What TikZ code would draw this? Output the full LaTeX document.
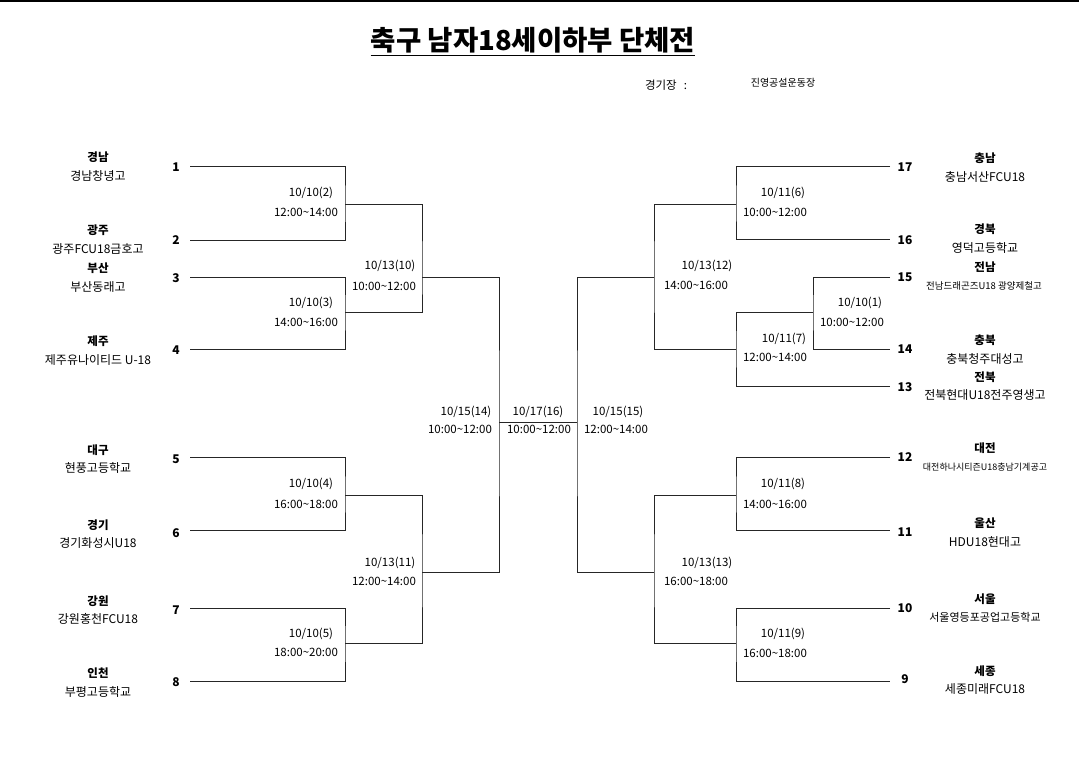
\documentclass[tikz,border=0pt]{standalone}
\usepackage{fontspec}
\setmainfont{Noto Sans CJK KR}
\usetikzlibrary{calc}
\begin{document}
\begin{tikzpicture}[x=1pt,y=-1pt,
  br/.style={draw=black!85,line width=0.9pt},
  lbl/.style={font=\fontsize{11.5}{12}\selectfont, inner sep=0pt},
  num/.style={font=\bfseries\fontsize{12}{12}\selectfont, inner sep=0pt},
  reg/.style={font=\bfseries\fontsize{11.5}{12}\selectfont, inner sep=0pt},
  sch/.style={font=\fontsize{12}{12}\selectfont, inner sep=0pt},
  schs/.style={font=\fontsize{9.5}{10}\selectfont, inner sep=0pt}]
\useasboundingbox (0,0) rectangle (1079,757);
\fill[white] (0,0) rectangle (1079,757);
\draw[line width=1.4pt] (0,1) -- (1079,1);
% title
\node[anchor=base, inner sep=0pt, font=\bfseries\fontsize{27.5}{30}\selectfont] (title) at (533,51) {축구 남자18세이하부 단체전};
\draw[line width=1.6pt] ($(title.base west)+(0,4.5)$) -- ($(title.base east)+(0,4.5)$);
\node[inner sep=0pt, font=\fontsize{11.5}{12}\selectfont] (venuek) at (666,85) {경기장 \ \,:};
\node[inner sep=0pt, font=\fontsize{10}{10}\selectfont] (venue) at (783,83) {진영공설운동장};
% coordinates left
\coordinate (s1) at (190,166); \coordinate (s2) at (190,240);
\coordinate (s3) at (190,277); \coordinate (s4) at (190,349);
\coordinate (s5) at (190,457); \coordinate (s6) at (190,530);
\coordinate (s7) at (190,608); \coordinate (s8) at (190,681);
\coordinate (m2) at (345,204); \coordinate (m3) at (345,312);
\coordinate (m4) at (345,495); \coordinate (m5) at (345,643);
\coordinate (q10) at (422,277); \coordinate (q11) at (422,572);
\coordinate (f14) at (499,422); \coordinate (f15) at (577,422);
% coordinates right
\coordinate (s17) at (890,166); \coordinate (s16) at (890,239);
\coordinate (s15) at (890,277); \coordinate (s14) at (890,349);
\coordinate (s13) at (890,386);
\coordinate (s12) at (890,457); \coordinate (s11) at (890,530);
\coordinate (s10) at (890,608); \coordinate (s9) at (890,681);
\coordinate (m6) at (736,204); \coordinate (m1) at (813,312);
\coordinate (m7) at (736,349); \coordinate (m8) at (736,495);
\coordinate (m9) at (736,643);
\coordinate (q12) at (654,277); \coordinate (q13) at (654,572);
% bracket lines left
\draw[br] (s1) -| (m2) |- (s2);
\draw[br] (s3) -| (m3) |- (s4);
\draw[br] (s5) -| (m4) |- (s6);
\draw[br] (s7) -| (m5) |- (s8);
\draw[br] (m2) -| (q10) |- (m3);
\draw[br] (m4) -| (q11) |- (m5);
\draw[br] (q10) -| (f14) |- (q11);
\draw[br] (f14) -- (f15);
% bracket lines right
\draw[br] (s17) -| (m6) |- (s16);
\draw[br] (s15) -| (m1) |- (s14);
\draw[br] (m1) -| (m7) |- (s13);
\draw[br] (m6) -| (q12) |- (m7);
\draw[br] (s12) -| (m8) |- (s11);
\draw[br] (s10) -| (m9) |- (s9);
\draw[br] (m8) -| (q13) |- (m9);
\draw[br] (q12) -| (f15) |- (q13);
% numbers left
\node[num] (n1) at (176,167) {1};
\node[num] (n2) at (176,240) {2};
\node[num] (n3) at (176,278) {3};
\node[num] (n4) at (176,350) {4};
\node[num] (n5) at (176,459) {5};
\node[num] (n6) at (176,533) {6};
\node[num] (n7) at (176,610) {7};
\node[num] (n8) at (176,682) {8};
% numbers right
\node[num] (n17) at (905,167) {17};
\node[num] (n16) at (905,240) {16};
\node[num] (n15) at (905,277) {15};
\node[num] (n14) at (905,349) {14};
\node[num] (n13) at (905,387) {13};
\node[num] (n12) at (905,457) {12};
\node[num] (n11) at (905,532) {11};
\node[num] (n10) at (905,608) {10};
\node[num] (n9) at (905,679) {9};
% teams left
\node[reg] (r1) at (98,157) {경남};
\node[sch] (t1) at (98,176) {경남창녕고};
\node[reg] (r2) at (98,230) {광주};
\node[sch] (t2) at (98,249) {광주FCU18금호고};
\node[reg] (r3) at (98,268) {부산};
\node[sch] (t3) at (98,287) {부산동래고};
\node[reg] (r4) at (98,341) {제주};
\node[sch] (t4) at (98,360) {제주유나이티드 U-18};
\node[reg] (r5) at (98,450) {대구};
\node[sch] (t5) at (98,468) {현풍고등학교};
\node[reg] (r6) at (98,525) {경기};
\node[sch] (t6) at (98,543) {경기화성시U18};
\node[reg] (r7) at (98,601) {강원};
\node[sch] (t7) at (98,619) {강원홍천FCU18};
\node[reg] (r8) at (98,673) {인천};
\node[sch] (t8) at (98,692) {부평고등학교};
% teams right
\node[reg] (r17) at (985,158) {충남};
\node[sch] (t17) at (985,177) {충남서산FCU18};
\node[reg] (r16) at (985,229) {경북};
\node[sch] (t16) at (985,248) {영덕고등학교};
\node[reg] (r15) at (985,267) {전남};
\node[schs] (t15) at (984,286) {전남드래곤즈U18 광양제철고};
\node[reg] (r14) at (985,340) {충북};
\node[sch] (t14) at (985,359) {충북청주대성고};
\node[reg] (r13) at (985,377) {전북};
\node[sch] (t13) at (985,395) {전북현대U18전주영생고};
\node[reg] (r12) at (985,448) {대전};
\node[inner sep=0pt, font=\fontsize{9}{10}\selectfont] (t12) at (985,467) {대전하나시티즌U18충남기계공고};
\node[reg] (r11) at (985,523) {울산};
\node[sch] (t11) at (985,542) {HDU18현대고};
\node[reg] (r10) at (985,599) {서울};
\node[inner sep=0pt, font=\fontsize{11}{12}\selectfont] (t10) at (985,617) {서울영등포공업고등학교};
\node[reg] (r9) at (985,671) {세종};
\node[sch] (t9) at (985,689) {세종미래FCU18};
% match labels left
\node[lbl] (d2) at (311,193) {10/10(2)};
\node[lbl] (h2) at (306,212) {12:00\textasciitilde14:00};
\node[lbl] (d3) at (311,303) {10/10(3)};
\node[lbl] (h3) at (306,322) {14:00\textasciitilde16:00};
\node[lbl] (d10) at (390,266) {10/13(10)};
\node[lbl] (h10) at (384,286) {10:00\textasciitilde12:00};
\node[lbl] (d4) at (311,484) {10/10(4)};
\node[lbl] (h4) at (306,504) {16:00\textasciitilde18:00};
\node[lbl] (d5) at (311,634) {10/10(5)};
\node[lbl] (h5) at (306,652) {18:00\textasciitilde20:00};
\node[lbl] (d11) at (390,563) {10/13(11)};
\node[lbl] (h11) at (384,581) {12:00\textasciitilde14:00};
% center labels
\node[lbl] (d14) at (466,412) {10/15(14)};
\node[lbl] (h14) at (460,429) {10:00\textasciitilde12:00};
\node[lbl] (d16) at (538,412) {10/17(16)};
\node[lbl] (h16) at (539,429) {10:00\textasciitilde12:00};
\node[lbl] (d15) at (618,412) {10/15(15)};
\node[lbl] (h15) at (616,429) {12:00\textasciitilde14:00};
% match labels right
\node[lbl] (d6) at (783,193) {10/11(6)};
\node[lbl] (h6) at (775,212) {10:00\textasciitilde12:00};
\node[lbl] (d12) at (707,266) {10/13(12)};
\node[lbl] (h12) at (696,285) {14:00\textasciitilde16:00};
\node[lbl] (d1) at (860,303) {10/10(1)};
\node[lbl] (h1) at (852,322) {10:00\textasciitilde12:00};
\node[lbl] (d7) at (784,339) {10/11(7)};
\node[lbl] (h7) at (775,357) {12:00\textasciitilde14:00};
\node[lbl] (d8) at (783,484) {10/11(8)};
\node[lbl] (h8) at (775,504) {14:00\textasciitilde16:00};
\node[lbl] (d13) at (707,563) {10/13(13)};
\node[lbl] (h13) at (696,581) {16:00\textasciitilde18:00};
\node[lbl] (d9) at (783,634) {10/11(9)};
\node[lbl] (h9) at (775,653) {16:00\textasciitilde18:00};
\end{tikzpicture}
\end{document}
